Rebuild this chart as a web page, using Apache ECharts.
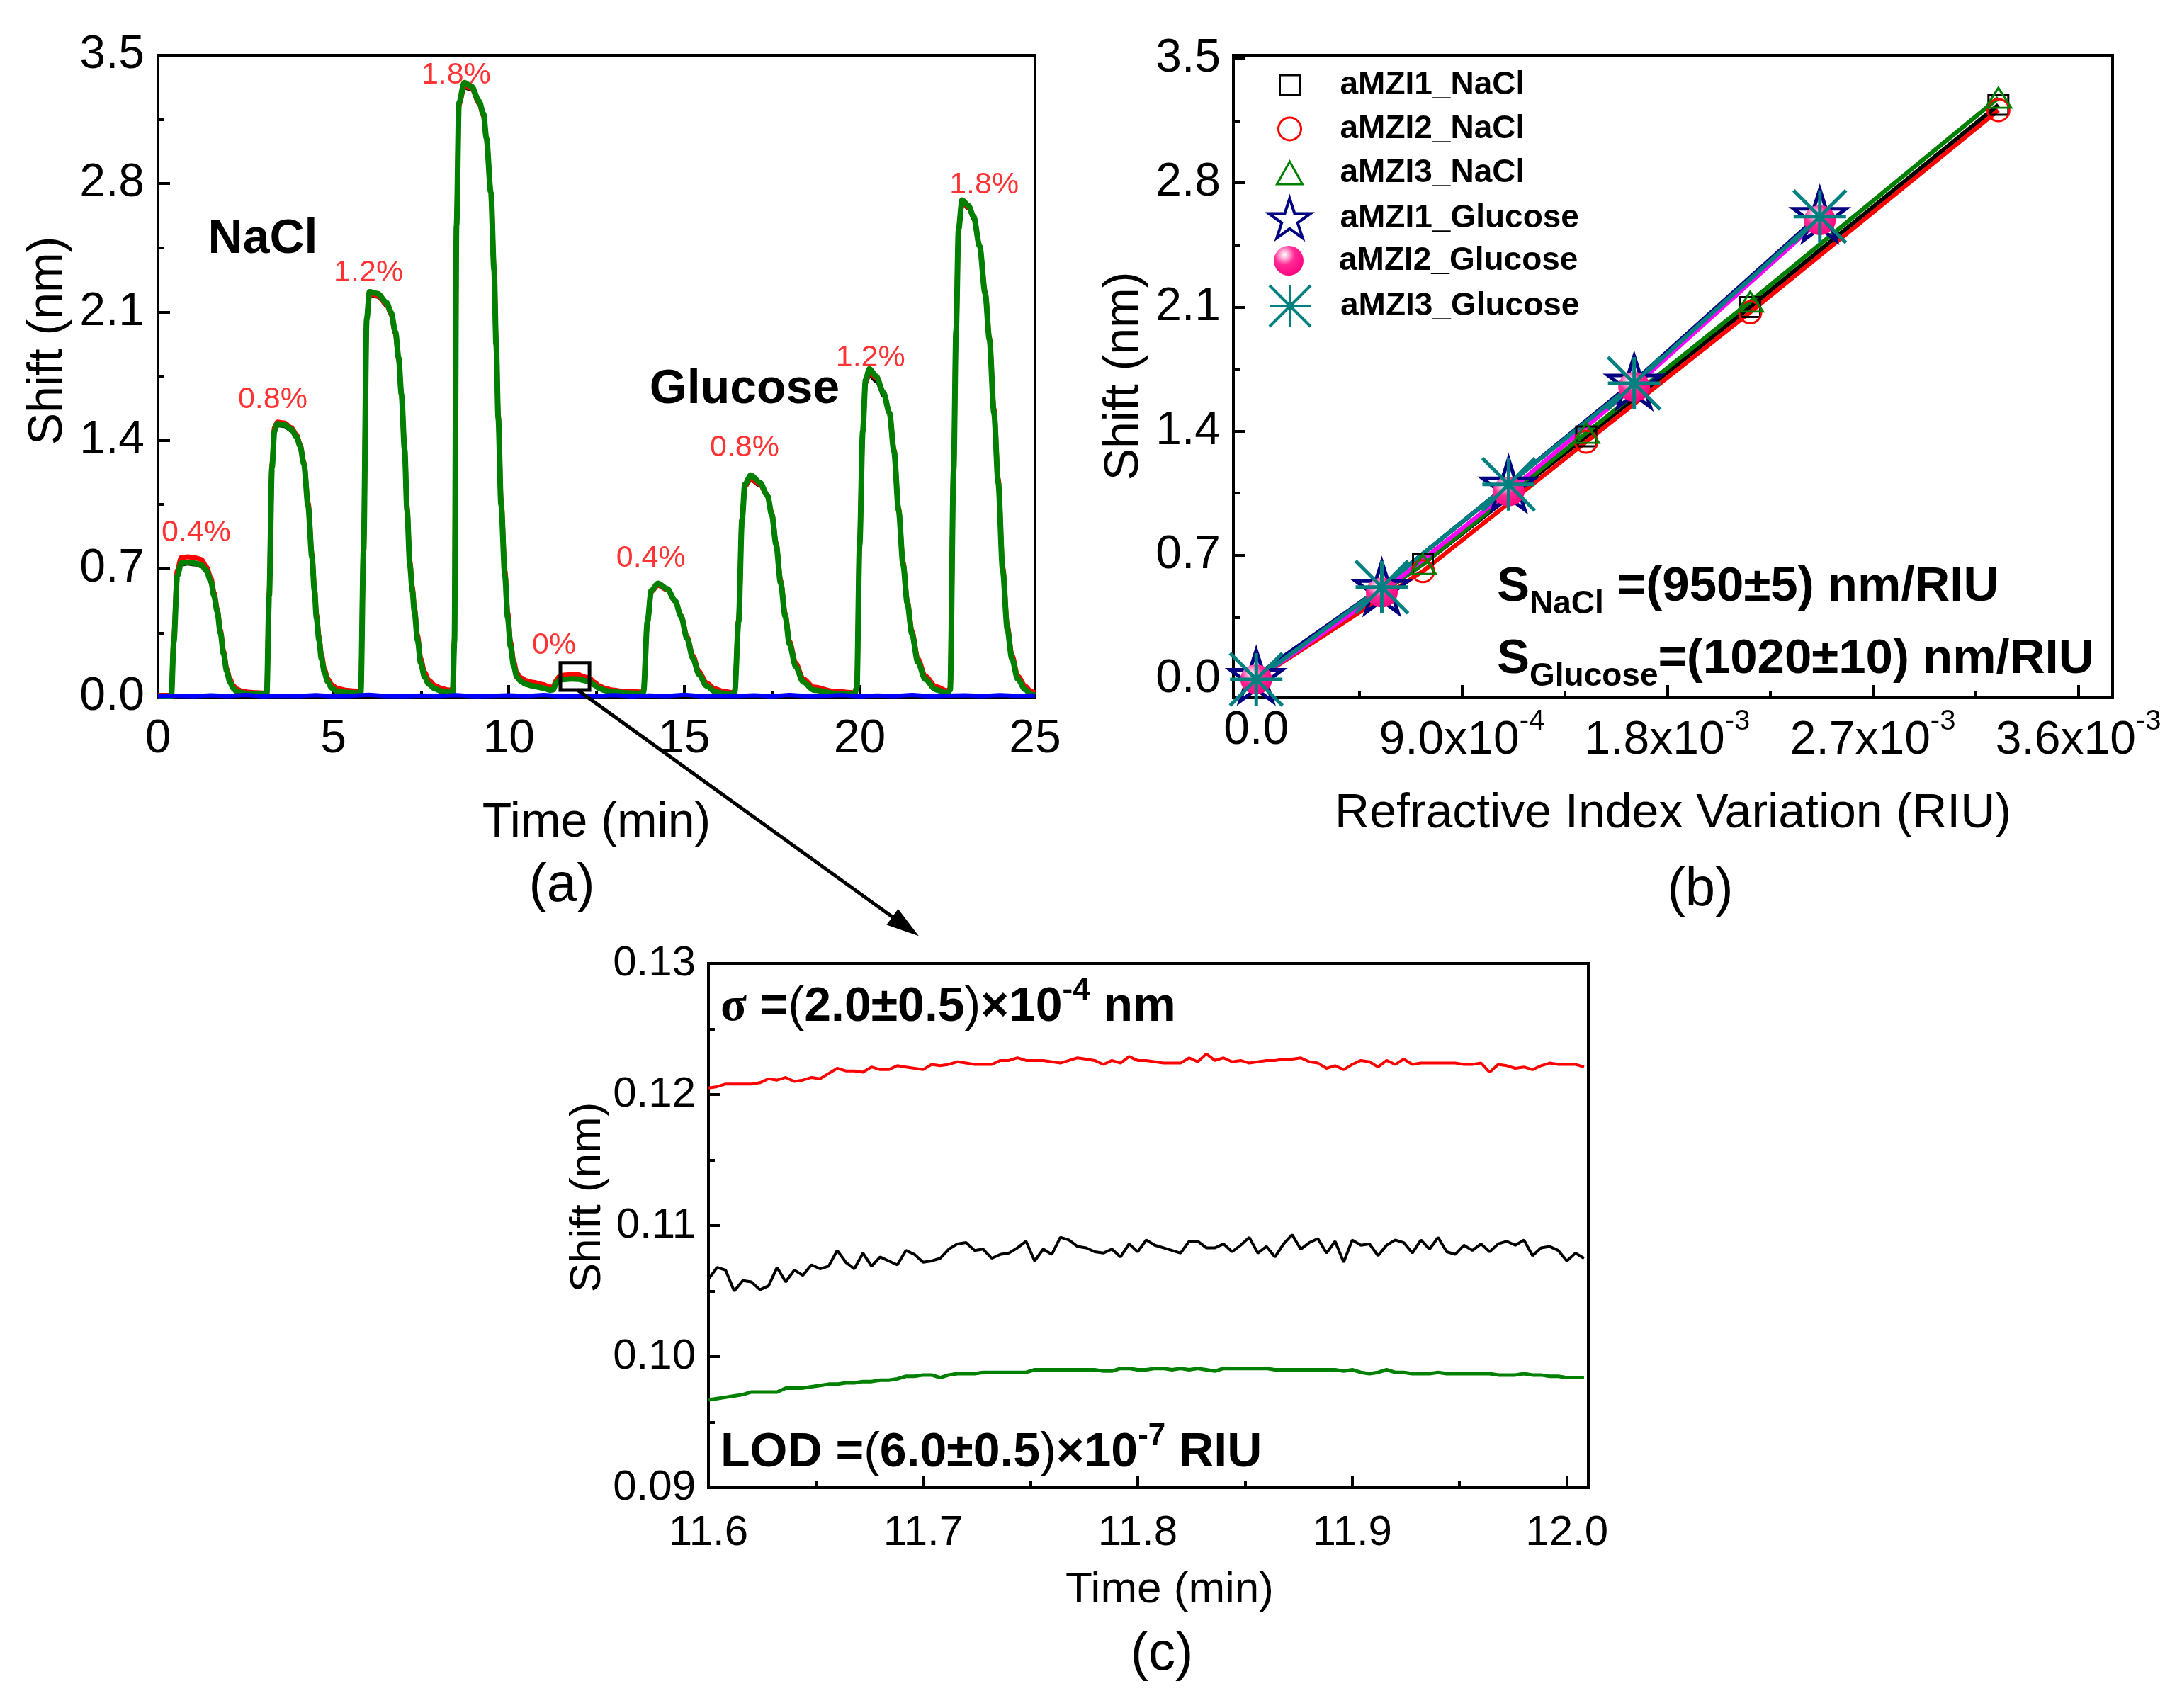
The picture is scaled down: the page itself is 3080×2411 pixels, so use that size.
<!DOCTYPE html>
<html><head><meta charset="utf-8">
<script src="https://cdn.jsdelivr.net/npm/echarts@6/dist/echarts.min.js"></script>
<style>html,body{margin:0;padding:0;background:#fff}#c{width:3080px;height:2411px}</style>
</head><body><div id="c"></div>
<script>
// ---------------- Panel (a) data ----------------
const timeA = [0.0,0.38,0.45,0.55,0.66,0.85,1.05,1.24,1.38,1.51,1.60,1.69,1.78,1.87,1.96,2.05,2.14,2.23,2.40,2.59,2.80,3.04,3.10,
3.17,3.25,3.32,3.40,3.60,3.80,3.95,4.05,4.16,4.28,4.39,4.46,4.52,4.59,4.66,4.75,4.84,4.95,5.10,5.35,5.55,5.78,
5.86,5.95,6.03,6.26,6.52,6.64,6.77,6.86,6.94,7.03,7.10,7.18,7.25,7.31,7.40,7.49,7.60,7.72,7.90,8.08,8.25,8.40,
8.45,8.51,8.58,8.73,8.94,9.15,9.28,9.36,9.49,9.58,9.64,9.70,9.78,9.89,9.97,10.05,10.14,10.23,10.35,10.50,10.70,10.95,11.18,11.26,
11.35,11.45,11.60,11.80,12.00,12.06,12.20,12.31,12.45,12.57,12.75,12.91,13.20,13.50,13.78,
13.84,13.95,14.06,14.25,14.52,14.74,14.91,15.08,15.25,15.42,15.63,15.88,16.10,16.38,
16.44,16.55,16.65,16.73,16.90,17.16,17.37,17.50,17.62,17.75,17.88,18.00,18.18,18.39,18.69,19.28,19.85,
19.92,20.00,20.09,20.17,20.28,20.47,20.68,20.85,20.98,21.11,21.24,21.36,21.49,21.66,21.87,22.17,22.50,
22.58,22.68,22.75,22.82,22.92,23.10,23.25,23.42,23.58,23.70,23.83,23.95,24.08,24.21,24.34,24.51,24.72,24.89,25.0];

const greenA = [0.005,0.005,0.30,0.66,0.73,0.735,0.73,0.72,0.69,0.63,0.55,0.466,0.35,0.236,0.14,0.083,0.05,0.032,0.022,0.019,0.017,0.016,0.016,
0.55,1.25,1.45,1.49,1.485,1.46,1.42,1.37,1.27,1.04,0.76,0.58,0.43,0.31,0.21,0.13,0.083,0.05,0.032,0.025,0.023,0.022,
0.80,2.06,2.21,2.20,2.15,2.10,1.99,1.85,1.65,1.35,1.02,0.72,0.58,0.466,0.31,0.185,0.11,0.07,0.045,0.032,0.027,0.026,
0.30,2.57,3.24,3.35,3.33,3.25,3.18,3.05,2.75,2.33,1.92,1.52,1.05,0.66,0.43,0.275,0.17,0.109,0.085,0.07,0.06,0.05,0.038,0.04,
0.075,0.095,0.097,0.099,0.098,0.095,0.088,0.083,0.065,0.048,0.036,0.03,0.024,0.021,0.02,
0.03,0.41,0.58,0.62,0.59,0.525,0.44,0.32,0.21,0.124,0.062,0.03,0.02,0.014,
0.03,0.41,0.97,1.16,1.21,1.17,1.10,0.99,0.83,0.62,0.44,0.29,0.166,0.083,0.039,0.02,0.014,
0.05,0.83,1.45,1.73,1.79,1.75,1.66,1.55,1.34,1.02,0.72,0.51,0.345,0.19,0.097,0.041,0.02,
0.04,1.24,2.00,2.55,2.71,2.68,2.62,2.46,2.20,1.95,1.55,1.17,0.69,0.37,0.21,0.097,0.041,0.014,0.01];

const redA = [0.01,0.01,0.32,0.69,0.76,0.765,0.76,0.75,0.71,0.65,0.57,0.48,0.365,0.25,0.155,0.10,0.065,0.045,0.032,0.027,0.024,0.022,0.022,
0.57,1.27,1.47,1.50,1.495,1.47,1.43,1.38,1.28,1.06,0.78,0.60,0.45,0.33,0.23,0.15,0.10,0.068,0.048,0.038,0.034,0.032,
0.82,2.06,2.20,2.19,2.14,2.09,1.98,1.84,1.65,1.36,1.04,0.74,0.60,0.49,0.335,0.21,0.135,0.092,0.063,0.048,0.04,0.038,
0.32,2.57,3.23,3.33,3.32,3.24,3.17,3.05,2.75,2.34,1.93,1.54,1.08,0.69,0.46,0.30,0.195,0.13,0.105,0.09,0.08,0.07,0.055,0.056,
0.09,0.115,0.121,0.123,0.122,0.117,0.108,0.10,0.08,0.062,0.048,0.04,0.033,0.03,0.028,
0.035,0.40,0.575,0.61,0.585,0.525,0.445,0.33,0.225,0.14,0.078,0.045,0.032,0.024,
0.035,0.42,0.97,1.15,1.19,1.16,1.10,1.00,0.84,0.635,0.455,0.305,0.185,0.10,0.055,0.032,0.024,
0.055,0.84,1.45,1.72,1.77,1.74,1.66,1.55,1.35,1.03,0.735,0.525,0.36,0.21,0.115,0.058,0.034,
0.045,1.25,2.00,2.55,2.70,2.67,2.62,2.46,2.21,1.96,1.57,1.19,0.71,0.39,0.23,0.115,0.06,0.03,0.025];

const blackA = [0.0,0.0,0.29,0.65,0.72,0.725,0.72,0.71,0.68,0.62,0.54,0.46,0.345,0.23,0.135,0.08,0.048,0.03,0.02,0.018,0.016,0.015,0.015,
0.54,1.24,1.44,1.48,1.475,1.45,1.41,1.36,1.26,1.03,0.75,0.57,0.42,0.30,0.205,0.125,0.08,0.048,0.03,0.024,0.022,0.021,
0.79,2.05,2.19,2.18,2.13,2.08,1.97,1.83,1.64,1.34,1.01,0.71,0.57,0.46,0.30,0.18,0.105,0.067,0.043,0.031,0.026,0.025,
0.29,2.56,3.22,3.32,3.31,3.23,3.16,3.04,2.74,2.32,1.91,1.51,1.04,0.65,0.42,0.27,0.165,0.105,0.082,0.068,0.058,0.048,0.037,0.039,
0.085,0.103,0.106,0.108,0.108,0.105,0.097,0.09,0.07,0.052,0.038,0.031,0.024,0.021,0.02,
0.03,0.40,0.57,0.605,0.58,0.515,0.43,0.315,0.205,0.12,0.06,0.029,0.019,0.013,
0.03,0.40,0.96,1.14,1.18,1.15,1.09,0.98,0.82,0.61,0.43,0.285,0.16,0.08,0.037,0.019,0.013,
0.05,0.82,1.44,1.70,1.75,1.72,1.64,1.54,1.33,1.01,0.71,0.50,0.34,0.185,0.094,0.04,0.019,
0.04,1.23,1.99,2.53,2.69,2.66,2.60,2.45,2.19,1.94,1.54,1.16,0.68,0.36,0.205,0.094,0.04,0.013,0.01];

const blueTime = [0,0.5,1,1.5,2,2.5,3,3.5,4,4.5,5,5.5,6,6.5,7,7.5,8,8.5,9,9.5,10,10.5,11,11.5,12,12.5,13,13.5,14,14.5,15,15.5,16,16.5,17,17.5,18,18.5,19,19.5,20,20.5,21,21.5,22,22.5,23,23.5,24,24.5,25];
const blueA = [0.006,0.008,0.005,0.010,0.006,0.012,0.005,0.008,0.006,0.011,0.005,0.007,0.013,0.006,0.005,0.009,0.006,0.011,0.005,0.007,0.010,0.006,0.012,0.005,0.008,0.006,0.011,0.005,0.009,0.006,0.013,0.005,0.008,0.006,0.010,0.005,0.012,0.006,0.007,0.011,0.005,0.009,0.006,0.012,0.005,0.008,0.010,0.006,0.011,0.007,0.009];

const pctLabelText  = ['0.4%','0.8%','1.2%','1.8%','0%','0.4%','0.8%','1.2%','1.8%'];
const pctLabelTime  = [1.09, 3.27, 6.0, 8.5, 11.29, 14.05, 16.72, 20.31, 23.55];
const pctLabelShift = [0.896, 1.622, 2.314, 3.392, 0.282, 0.757, 1.36, 1.85, 2.793];

const aXTicks = [0,5,10,15,20,25];
const aXMinor = [2.5,7.5,12.5,17.5,22.5];
const aYTicks = [0,0.7,1.4,2.1,2.8,3.5];
const aYMinor = [0.35,1.05,1.75,2.45,3.15];

// ---------------- Panel (b) data ----------------
const riNaCl     = [0, 7.3e-4, 1.445e-3, 2.163e-3, 3.25e-3];
const shiftNaCl1 = [0, 0.65, 1.37, 2.10, 3.24];
const shiftNaCl2 = [0, 0.61, 1.34, 2.07, 3.21];
const shiftNaCl3 = [0, 0.65, 1.39, 2.13, 3.28];
const riGlucose  = [0, 5.5e-4, 1.105e-3, 1.655e-3, 2.468e-3];
const shiftGlu1  = [0.02, 0.52, 1.10, 1.68, 2.62];
const shiftGlu2  = [0, 0.49, 1.06, 1.65, 2.59];
const shiftGlu3  = [0, 0.52, 1.10, 1.67, 2.61];

const bXTicks = [0, 0.0009, 0.0018, 0.0027, 0.0036];
const bXTickMant = ['0.0','9.0','1.8','2.7','3.6'];
const bXTickExp  = ['','-4','-3','-3','-3'];
const bXMinor = [0.00045, 0.00135, 0.00225, 0.00315];
const bYTicks = [0,0.7,1.4,2.1,2.8,3.5];
const bYMinor = [0.35,1.05,1.75,2.45,3.15];

// ---------------- Panel (c) data ----------------
const timeC = [11.600,11.604,11.608,11.612,11.616,11.620,11.624,11.628,11.632,11.636,11.640,11.644,11.648,11.652,11.656,11.660,11.664,11.668,11.672,11.676,11.680,11.684,11.688,11.692,11.696,11.700,11.704,11.708,11.712,11.716,11.720,11.724,11.728,11.732,11.736,11.740,11.744,11.748,11.752,11.756,11.760,11.764,11.768,11.772,11.776,11.780,11.784,11.788,11.792,11.796,11.800,11.804,11.808,11.812,11.816,11.820,11.824,11.828,11.832,11.836,11.840,11.844,11.848,11.852,11.856,11.860,11.864,11.868,11.872,11.876,11.880,11.884,11.888,11.892,11.896,11.900,11.904,11.908,11.912,11.916,11.920,11.924,11.928,11.932,11.936,11.940,11.944,11.948,11.952,11.956,11.960,11.964,11.968,11.972,11.976,11.980,11.984,11.988,11.992,11.996,12.000,12.004,12.008];
const redC = [0.1205,0.1206,0.1208,0.1208,0.1208,0.1208,0.1209,0.1212,0.1211,0.1213,
0.1210,0.1211,0.1213,0.1212,0.1216,0.1220,0.1218,0.1218,0.1217,0.1221,
0.1219,0.1219,0.1222,0.1221,0.1220,0.1219,0.1223,0.1222,0.1223,0.1225,
0.1224,0.1223,0.1223,0.1223,0.1226,0.1226,0.1228,0.1226,0.1226,0.1226,
0.1225,0.1224,0.1226,0.1228,0.1227,0.1226,0.1223,0.1226,0.1224,0.1229,
0.1226,0.1226,0.1225,0.1224,0.1224,0.1224,0.1228,0.1225,0.1231,0.1226,
0.1228,0.1225,0.1226,0.1224,0.1225,0.1226,0.1226,0.1227,0.1227,0.1228,
0.1225,0.1224,0.1220,0.1222,0.1219,0.1223,0.1226,0.1225,0.1221,0.1226,
0.1223,0.1227,0.1223,0.1224,0.1224,0.1224,0.1224,0.1224,0.1223,0.1223,
0.1224,0.1217,0.1223,0.1222,0.1220,0.1221,0.1219,0.1222,0.1224,0.1223,
0.1223,0.1223,0.1221];
const blackC = [0.1059,0.1068,0.1066,0.1050,0.1058,0.1057,0.1051,0.1054,0.1068,0.1057,
0.1066,0.1062,0.1070,0.1067,0.1069,0.1081,0.1072,0.1067,0.1079,0.1069,
0.1076,0.1073,0.1070,0.1081,0.1078,0.1072,0.1073,0.1075,0.1082,0.1086,
0.1087,0.1081,0.1082,0.1075,0.1078,0.1079,0.1083,0.1088,0.1073,0.1082,
0.1078,0.1091,0.1089,0.1084,0.1083,0.1080,0.1079,0.1082,0.1076,0.1086,
0.1080,0.1089,0.1085,0.1083,0.1081,0.1079,0.1088,0.1088,0.1083,0.1083,
0.1086,0.1080,0.1085,0.1091,0.1079,0.1084,0.1076,0.1086,0.1093,0.1082,
0.1087,0.1090,0.1079,0.1088,0.1072,0.1089,0.1085,0.1086,0.1077,0.1085,
0.1089,0.1087,0.1079,0.1089,0.1082,0.1091,0.1080,0.1078,0.1085,0.1081,
0.1086,0.1080,0.1086,0.1088,0.1085,0.1089,0.1077,0.1083,0.1084,0.1081,
0.1073,0.1079,0.1075];
const greenC = [0.0967,0.0968,0.0969,0.0970,0.0971,0.0973,0.0973,0.0973,0.0973,0.0976,
0.0976,0.0976,0.0977,0.0978,0.0979,0.0979,0.0980,0.0980,0.0981,0.0981,
0.0982,0.0982,0.0983,0.0985,0.0985,0.0986,0.0986,0.0984,0.0986,0.0987,
0.0987,0.0987,0.0988,0.0988,0.0988,0.0988,0.0988,0.0988,0.0990,0.0990,
0.0990,0.0990,0.0990,0.0990,0.0990,0.0990,0.0989,0.0989,0.0991,0.0991,
0.0990,0.0990,0.0991,0.0991,0.0990,0.0991,0.0990,0.0991,0.0990,0.0989,
0.0991,0.0991,0.0991,0.0991,0.0991,0.0991,0.0990,0.0990,0.0990,0.0990,
0.0990,0.0990,0.0990,0.0990,0.0989,0.0990,0.0988,0.0987,0.0988,0.0990,
0.0988,0.0988,0.0987,0.0987,0.0987,0.0988,0.0987,0.0987,0.0987,0.0987,
0.0987,0.0987,0.0986,0.0986,0.0986,0.0987,0.0986,0.0986,0.0985,0.0985,
0.0984,0.0984,0.0984];

const cXTicks = [11.6,11.7,11.8,11.9,12.0];
const cXMinor = [11.65,11.75,11.85,11.95];
const cYTicks = [0.09,0.10,0.11,0.12,0.13];
const cYMinor = [0.095,0.105,0.115,0.125];

// annotation anchors (data coords)
const insetBoxTime  = [11.47, 12.30];
const insetBoxShift = [0.186, 0.039];
const arrowStartA = [11.95, 0.04];     // in panel (a)
const arrowEndC   = [11.698, 0.1321];  // in panel (c)

// ---------------- build chart ----------------
const FONT = "'Liberation Sans', Arial, Helvetica, sans-serif";
const chart = echarts.init(document.getElementById('c'), null, {renderer:'canvas', width:3080, height:2411});
const pairs = (xs, ys) => xs.map((x, i) => [x, ys[i]]);

function majorAxis(dim, gi, min, max, ticks, fmt, lab, name) {
  const a = {
    gridIndex: gi, type: 'value', min: min, max: max,
    position: dim === 'x' ? 'bottom' : 'left',
    axisLine: {show: true, onZero: false, lineStyle: {color: '#000', width: 4}},
    axisTick: {show: true, inside: true, length: 17, lineStyle: {color: '#000', width: 4}, customValues: ticks},
    axisLabel: Object.assign({show: true, customValues: ticks, formatter: fmt, color: '#000', fontFamily: FONT}, lab),
    splitLine: {show: false}, minorTick: {show: false}
  };
  if (name) Object.assign(a, name);
  return a;
}
function minorAxis(dim, gi, min, max, ticks) {
  return {
    gridIndex: gi, type: 'value', min: min, max: max,
    position: dim === 'x' ? 'bottom' : 'left', offset: 0,
    axisLine: {show: false, onZero: false},
    axisTick: {show: true, inside: true, length: 9, lineStyle: {color: '#000', width: 4}, customValues: ticks},
    axisLabel: {show: false}, splitLine: {show: false}
  };
}
const nameStyle = (fs, pad) => ({fontSize: fs, fontFamily: FONT, color: '#000', padding: pad || 0});

const bXRich = {
  b0: {fontSize: 66, lineHeight: 66, fontFamily: FONT, color: '#000', verticalAlign: 'top'},
  b:  {fontSize: 66, lineHeight: 66, fontFamily: FONT, color: '#000', verticalAlign: 'top', padding: [14, 0, 0, 0]},
  s:  {fontSize: 40, lineHeight: 40, fontFamily: FONT, color: '#000', verticalAlign: 'top'}
};
const bXFmt = v => {
  const i = bXTicks.findIndex(t => Math.abs(t - v) < 1e-9);
  if (i < 0) return '';
  return bXTickExp[i] ? '{b|' + bXTickMant[i] + 'x10}{s|' + bXTickExp[i] + '}' : '{b0|' + bXTickMant[i] + '}';
};

const xAxes = [
  majorAxis('x', 0, 0, 25, aXTicks, v => String(v), {fontSize: 66, margin: 27},
    {name: 'Time (min)', nameLocation: 'middle', nameGap: 144, nameTextStyle: nameStyle(68)}),
  minorAxis('x', 0, 0, 25, aXMinor),
  majorAxis('x', 1, -0.0001, 0.00375, bXTicks, bXFmt, {fontSize: 66, margin: 15, rich: bXRich},
    {name: 'Refractive Index Variation (RIU)', nameLocation: 'middle', nameGap: 131, nameTextStyle: nameStyle(68)}),
  minorAxis('x', 1, -0.0001, 0.00375, bXMinor),
  majorAxis('x', 2, 11.6, 12.01, cXTicks, v => v.toFixed(1), {fontSize: 60, margin: 34},
    {name: 'Time (min)', nameLocation: 'middle', nameGap: 114, nameTextStyle: nameStyle(62, [0, 0, 0, 60])}),
  minorAxis('x', 2, 11.6, 12.01, cXMinor)
];
const yAxes = [
  majorAxis('y', 0, 0, 3.5, aYTicks, v => v.toFixed(1), {fontSize: 66, margin: 19, padding: [0, 0, 24, 0]},
    {name: 'Shift (nm)', nameLocation: 'middle', nameGap: 121, nameTextStyle: nameStyle(68, [0, 0, 0, 100])}),
  minorAxis('y', 0, 0, 3.5, aYMinor),
  majorAxis('y', 1, -0.1, 3.52, bYTicks, v => v.toFixed(1), {fontSize: 66, margin: 18},
    {name: 'Shift (nm)', nameLocation: 'middle', nameGap: 120, nameTextStyle: nameStyle(68)}),
  minorAxis('y', 1, -0.1, 3.52, bYMinor),
  majorAxis('y', 2, 0.09, 0.13, cYTicks, v => v.toFixed(2), {fontSize: 60, margin: 18},
    {name: 'Shift (nm)', nameLocation: 'middle', nameGap: 136, nameTextStyle: nameStyle(62, [0, 0, 0, 80])}),
  minorAxis('y', 2, 0.09, 0.13, cYMinor)
];

const lineA = (name, ys, color, w, xs, smooth) => ({
  name: name, type: 'line', xAxisIndex: 0, yAxisIndex: 0, data: pairs(xs || timeA, ys),
  symbol: 'none', smooth: smooth || false, smoothMonotone: 'x',
  lineStyle: {color: color, width: w, join: 'round'}, itemStyle: {color: color}, silent: true
});

const STAR = 'path://M50 0 L61.23 34.55 L97.55 34.55 L68.16 55.9 L79.39 90.45 L50 69.1 L20.61 90.45 L31.84 55.9 L2.45 34.55 L38.77 34.55 Z';
const ASTER = 'path://M0 0 L100 100 M100 0 L0 100 M50 0 L50 100 M0 50 L100 50';
const SPHERE = {type: 'radial', x: 0.36, y: 0.3, r: 0.75, colorStops: [
  {offset: 0, color: '#ffffff'}, {offset: 0.18, color: '#ffb0d8'}, {offset: 0.45, color: '#ff2a95'}, {offset: 1, color: '#ff0080'}]};

const bSpec = [
  {name: 'aMZI1_NaCl', xs: riNaCl, ys: shiftNaCl1, line: '#000000', symbol: 'rect', size: [28, 28], lsize: [28, 28], icon: 'rect',
   item: {color: 'rgba(0,0,0,0)', borderColor: '#000000', borderWidth: 3}, cy: 120},
  {name: 'aMZI2_NaCl', xs: riNaCl, ys: shiftNaCl2, line: '#ff0000', symbol: 'circle', size: [31, 31], lsize: [32, 32], icon: 'circle',
   item: {color: 'rgba(0,0,0,0)', borderColor: '#ff0000', borderWidth: 3}, cy: 182},
  {name: 'aMZI3_NaCl', xs: riNaCl, ys: shiftNaCl3, line: '#008000', symbol: 'triangle', size: [36, 28], lsize: [36, 32], icon: 'triangle',
   item: {color: 'rgba(0,0,0,0)', borderColor: '#008000', borderWidth: 3}, cy: 244},
  {name: 'aMZI1_Glucose', xs: riGlucose, ys: shiftGlu1, line: '#000080', symbol: STAR, size: [74, 72], lsize: [60, 56], icon: STAR,
   item: {color: 'rgba(0,0,0,0)', borderColor: '#000080', borderWidth: 5}, cy: 306},
  {name: 'aMZI2_Glucose', xs: riGlucose, ys: shiftGlu2, line: '#ff00ff', symbol: 'circle', size: [45, 42], lsize: [42, 42], icon: 'circle',
   item: {color: SPHERE, borderWidth: 0}, cy: 368},
  {name: 'aMZI3_Glucose', xs: riGlucose, ys: shiftGlu3, line: '#008080', symbol: ASTER, size: [74, 74], lsize: [58, 58], icon: ASTER,
   item: {color: 'rgba(0,0,0,0)', borderColor: '#008080', borderWidth: 5}, cy: 430}
];

const series = [
  lineA('black_a', blackA, '#000000', 4, null, 0.3),
  lineA('red_a', redA, '#ff0000', 7, null, 0.3),
  lineA('green_a', greenA, '#008000', 8, null, 0.3),
  lineA('blue_a', blueA, '#0000ff', 6, blueTime, false),
  {
    name: 'pct', type: 'scatter', xAxisIndex: 0, yAxisIndex: 0, symbolSize: 0, silent: true,
    data: pctLabelText.map((t, i) => ({name: t, value: [pctLabelTime[i], pctLabelShift[i]]})),
    label: {show: true, position: 'inside', formatter: '{b}', color: '#ff0000', fontSize: 43, fontFamily: FONT}
  }
];
bSpec.forEach(s => series.push({
  name: s.name, type: 'line', xAxisIndex: 2, yAxisIndex: 2, data: pairs(s.xs, s.ys),
  symbol: s.symbol, symbolSize: s.size, showSymbol: true, showAllSymbol: true,
  lineStyle: {color: s.line, width: 6}, itemStyle: s.item, silent: true
}));
series.push(
  {name: 'red_c', type: 'line', xAxisIndex: 4, yAxisIndex: 4, data: pairs(timeC, redC), symbol: 'none', lineStyle: {color: '#ff0000', width: 4}, silent: true},
  {name: 'black_c', type: 'line', xAxisIndex: 4, yAxisIndex: 4, data: pairs(timeC, blackC), symbol: 'none', lineStyle: {color: '#000000', width: 4}, silent: true},
  {name: 'green_c', type: 'line', xAxisIndex: 4, yAxisIndex: 4, data: pairs(timeC, greenC), symbol: 'none', lineStyle: {color: '#008000', width: 5}, silent: true}
);

const legends = bSpec.map(s => ({
  left: 1819 - s.lsize[0] / 2, top: s.cy - Math.max(s.lsize[1], 47) / 2, padding: 0,
  itemWidth: s.lsize[0], itemHeight: s.lsize[1], selectedMode: false, orient: 'horizontal',
  data: [{name: s.name, icon: s.icon, itemStyle: Object.assign({}, s.item, s.item.borderWidth ? {borderWidth: Math.min(s.item.borderWidth, 4)} : {})}],
  textStyle: {fontFamily: FONT, fontWeight: 'bold', fontSize: 46, lineHeight: 47, color: '#000', padding: [0, 0, 0, 66 - s.lsize[0] / 2]}
}));

const gridStyle = {show: true, borderColor: '#000', borderWidth: 4, backgroundColor: 'rgba(0,0,0,0)', containLabel: false};
const option = {
  animation: false,
  backgroundColor: '#ffffff',
  textStyle: {fontFamily: FONT},
  grid: [
    Object.assign({left: 223, top: 78, width: 1238, height: 906}, gridStyle),
    Object.assign({left: 1741, top: 78, width: 1241, height: 906}, gridStyle),
    Object.assign({left: 1000, top: 1360, width: 1242, height: 740}, gridStyle)
  ],
  xAxis: xAxes, yAxis: yAxes, legend: legends, series: series
};
chart.setOption(option);

// ---------------- annotations ----------------
const txt = (text, x, y, fs, weight, extra) => ({
  type: 'text', x: x, y: y, silent: true,
  style: Object.assign({text: text, fontSize: fs, fontWeight: weight || 'normal', fontFamily: FONT, fill: '#000', align: 'center', verticalAlign: 'middle'}, extra || {})
});
const subRich = {
  m: {fontSize: 69, lineHeight: 69, fontWeight: 'bold', fontFamily: FONT, fill: '#000', verticalAlign: 'top'},
  sub: {fontSize: 46, lineHeight: 46, fontWeight: 'bold', fontFamily: FONT, fill: '#000', verticalAlign: 'top', padding: [36, 0, 0, 0]}
};
const supRich = {
  m: {fontSize: 68, lineHeight: 68, fontWeight: 'bold', fontFamily: FONT, fill: '#000', verticalAlign: 'top', padding: [11, 0, 0, 0]},
  p: {fontSize: 68, lineHeight: 68, fontWeight: 'normal', fontFamily: FONT, fill: '#000', verticalAlign: 'top', padding: [11, 0, 0, 0]},
  g: {fontSize: 68, lineHeight: 68, fontWeight: 'bold', fontFamily: "'Liberation Serif', serif", fill: '#000', verticalAlign: 'top', padding: [11, 0, 0, 0]},
  sup: {fontSize: 44, lineHeight: 44, fontWeight: 'bold', fontFamily: FONT, fill: '#000', verticalAlign: 'top'}
};

const pa = chart.convertToPixel({seriesIndex: 0}, [insetBoxTime[0], insetBoxShift[0]]);
const pb = chart.convertToPixel({seriesIndex: 0}, [insetBoxTime[1], insetBoxShift[1]]);
const ps = chart.convertToPixel({seriesIndex: 0}, arrowStartA);
const pe = chart.convertToPixel({seriesIndex: series.length - 1}, arrowEndC);
const ang = Math.atan2(pe[1] - ps[1], pe[0] - ps[0]);
const HL = 46, HW = 14;
const base = [pe[0] - HL * Math.cos(ang), pe[1] - HL * Math.sin(ang)];
const perp = [-Math.sin(ang), Math.cos(ang)];

chart.setOption({graphic: [
  txt('NaCl', 371, 338, 68, 'bold'),
  txt('Glucose', 1051, 550, 68, 'bold'),
  {type: 'text', x: 2113, y: 794, silent: true, style: {text: '{m|S}{sub|NaCl}{m| =(950±5) nm/RIU}', rich: subRich, align: 'left', verticalAlign: 'top'}},
  {type: 'text', x: 2113, y: 896, silent: true, style: {text: '{m|S}{sub|Glucose}{m|=(1020±10) nm/RIU}', rich: subRich, align: 'left', verticalAlign: 'top'}},
  {type: 'text', x: 1017, y: 1377, silent: true, style: {text: '{g|σ}{m| =}{p|(}{m|2.0±0.5}{p|)}{m|×10}{sup|-4}{m| nm}', rich: supRich, align: 'left', verticalAlign: 'top'}},
  {type: 'text', x: 1017, y: 2006, silent: true, style: {text: '{m|LOD =}{p|(}{m|6.0±0.5}{p|)}{m|×10}{sup|-7}{m| RIU}', rich: supRich, align: 'left', verticalAlign: 'top'}},
  txt('(a)', 793, 1251, 76),
  txt('(b)', 2400, 1257, 76),
  txt('(c)', 1640, 2336, 76),
  {type: 'rect', silent: true, z: 100,
   shape: {x: Math.min(pa[0], pb[0]), y: Math.min(pa[1], pb[1]), width: Math.abs(pb[0] - pa[0]), height: Math.abs(pb[1] - pa[1])},
   style: {fill: 'none', stroke: '#000', lineWidth: 5}},
  {type: 'line', silent: true, z: 100, shape: {x1: ps[0], y1: ps[1], x2: base[0] + 6 * Math.cos(ang), y2: base[1] + 6 * Math.sin(ang)},
   style: {stroke: '#000', lineWidth: 5}},
  {type: 'polygon', silent: true, z: 100,
   shape: {points: [pe, [base[0] + HW * perp[0], base[1] + HW * perp[1]], [base[0] - HW * perp[0], base[1] - HW * perp[1]]]},
   style: {fill: '#000'}}
]});
</script></body></html>
